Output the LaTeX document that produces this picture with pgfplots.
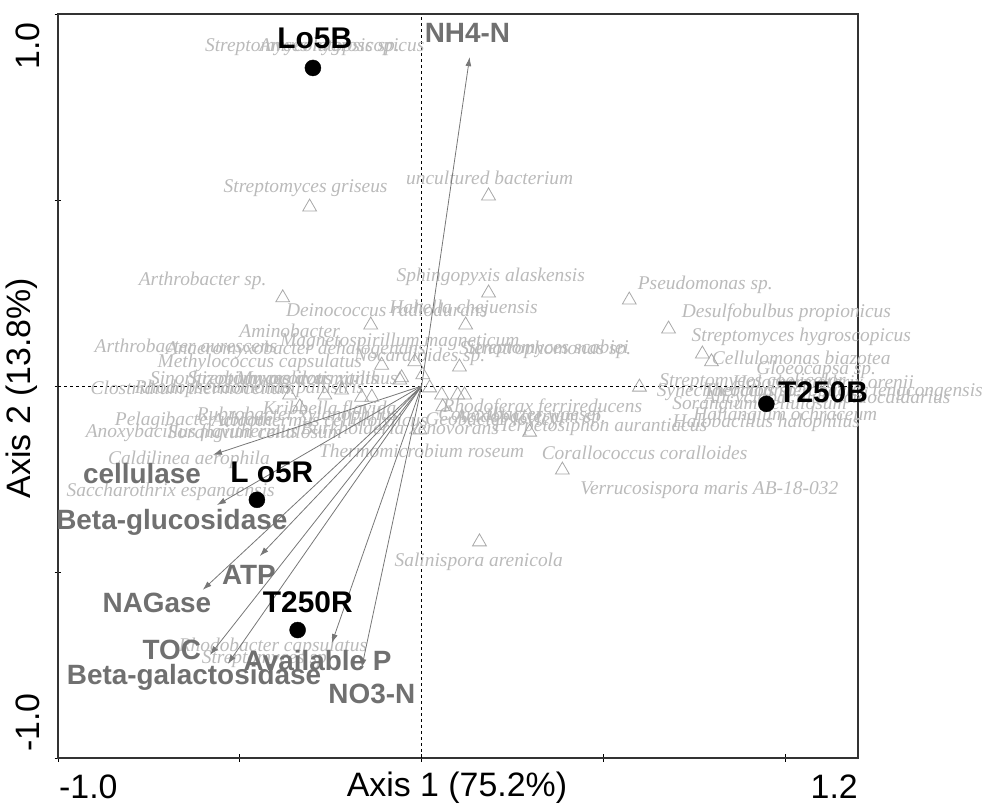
\documentclass[border=0pt]{standalone}
\usepackage{pgfplots}
\pgfplotsset{compat=1.18}
\usepackage{fontspec}
\setmainfont{Liberation Serif}
\newfontfamily\arial{Liberation Sans}
\usetikzlibrary{calc,arrows.meta}
\definecolor{spgray}{HTML}{BABABA}
\definecolor{trigray}{HTML}{A8A8A8}
\definecolor{envgray}{HTML}{707070}
\definecolor{arrgray}{HTML}{777777}
\tikzset{
  sp/.style={font=\fontsize{19.5}{19.5}\selectfont\itshape, text=spgray, inner sep=0pt},
  smp/.style={font=\arial\bfseries\fontsize{30}{30}\selectfont, text=black, inner sep=0pt},
  env/.style={font=\arial\bfseries\fontsize{28}{28}\selectfont, text=envgray, inner sep=0pt},
  lab/.style={font=\arial\fontsize{34}{34}\selectfont, text=black, inner sep=0pt},
}
\begin{document}
\begin{tikzpicture}
\begin{axis}[
  scale only axis, width=800bp, height=744bp,
  xmin=-1, xmax=1.2, ymin=-1, ymax=1,
  xtick={-1,-0.5,0,0.5,1}, ytick={-1,-0.5,0,0.5,1},
  xticklabels={,,,,}, yticklabels={,,,,},
  xtick pos=bottom, ytick pos=left,
  tick align=center, major tick length=7bp,
  clip=false,
  axis line style={line width=1.3bp, color=black!80},
  every tick/.style={black, line width=0.9bp},
]
\coordinate (sw) at (rel axis cs:0,0);
\coordinate (ne) at (rel axis cs:1,1);
% reference lines
\addplot[black, line width=0.9bp, dash pattern=on 3bp off 3bp] coordinates {(0,-1) (0,1)};
\addplot[black, line width=0.9bp, dash pattern=on 3bp off 3bp] coordinates {(-1,0) (1.2,0)};
% species
\addplot[only marks, mark=triangle, mark size=8bp, color=trigray, mark options={line width=0.8bp}] coordinates {
(-0.308,0.481) (0.184,0.511) (-0.382,0.237) (0.184,0.250) (0.571,0.231)
(-0.140,0.164) (0.121,0.164) (0.679,0.153) (0.772,0.086) (0.797,0.065)
(0.104,0.051) (-0.110,0.056) (-0.019,0.065) (0.003,0.030) (-0.055,0.022)
(-0.220,-0.011) (-0.165,-0.030) (-0.137,-0.030) (0.022,-0.005) (0.055,-0.024)
(0.099,-0.024) (0.118,-0.024) (0.599,-0.003) (0.297,-0.124) (0.387,-0.226)
(0.159,-0.419) (-0.363,-0.024) (-0.266,-0.024) (-0.335,-0.056) (0.058,-0.056)
(-0.005,-0.118) (-0.060,0.016)
};
\node[sp] at (axis cs:-0.294,0.911) {Streptomyces hygroscopicus};
\node[sp] at (axis cs:-0.253,0.911) {Amycolatopsis sp.};
\node[sp] at (axis cs:-0.319,0.532) {Streptomyces griseus};
\node[sp] at (axis cs:0.187,0.559) {uncultured bacterium};
\node[sp] at (axis cs:-0.602,0.282) {Arthrobacter sp.};
\node[sp] at (axis cs:0.190,0.293) {Sphingopyxis alaskensis};
\node[sp] at (axis cs:0.780,0.272) {Pseudomonas sp.};
\node[sp] at (axis cs:-0.096,0.204) {Deinococcus radiodurans};
\node[sp] at (axis cs:0.115,0.207) {Hahella chejuensis};
\node[sp] at (axis cs:1.003,0.196) {Desulfobulbus propionicus};
\node[sp] at (axis cs:1.044,0.132) {Streptomyces hygroscopicus};
\node[sp] at (axis cs:1.044,0.075) {Cellulomonas biazotea};
\node[sp] at (axis cs:1.085,0.043) {Gloeocapsa sp.};
\node[sp] at (axis cs:-0.363,0.148) {Aminobacter};
\node[sp] at (axis cs:-0.648,0.108) {Arthrobacter aurescens};
\node[sp] at (axis cs:-0.346,0.097) {Anaeromyxobacter dehalogenans};
\node[sp] at (axis cs:-0.060,0.118) {Magnetospirillum magneticum};
\node[sp] at (axis cs:-0.445,0.062) {Methylococcus capsulatus};
\node[sp] at (axis cs:0.346,0.099) {Streptomyces scabiei};
\node[sp] at (axis cs:0.340,0.097) {Stenotrophomonas sp.};
\node[sp] at (axis cs:-0.005,0.078) {Nocardioides sp.};
\node[sp] at (axis cs:-0.288,0.016) {Myxococcus xanthus};
\node[sp] at (axis cs:-0.503,0.022) {Sinorhizobium meliloti};
\node[sp] at (axis cs:-0.382,0.016) {Streptomyces avermitilis};
\node[sp] at (axis cs:-0.629,-0.005) {Clostridium thermocellum};
\node[sp] at (axis cs:-0.473,-0.008) {Rhodopseudomonas palustris};
\node[sp] at (axis cs:-0.341,-0.081) {Rubrobacter xylanophilus};
\node[sp] at (axis cs:-0.626,-0.094) {Pelagibacter ubique};
\node[sp] at (axis cs:-0.632,-0.126) {Anoxybacillus flavithermus};
\node[sp] at (axis cs:-0.459,-0.129) {Sorangium cellulosum};
\node[sp] at (axis cs:-0.640,-0.199) {Caldilinea aerophila};
\node[sp] at (axis cs:0.000,-0.175) {Thermomicrobium roseum};
\node[sp] at (axis cs:-0.060,-0.113) {Burkholderia xenovorans};
\node[sp] at (axis cs:0.332,-0.059) {Rhodoferax ferrireducens};
\node[sp] at (axis cs:0.492,-0.110) {Herpetosiphon aurantiacus};
\node[sp] at (axis cs:0.299,-0.086) {Acidobacterium sp.};
\node[sp] at (axis cs:0.269,-0.075) {Conexibacter woesei};
\node[sp] at (axis cs:0.201,-0.094) {Geobacter lovleyi};
\node[sp] at (axis cs:-0.253,-0.065) {Kribbella flavida};
\node[sp] at (axis cs:-0.280,-0.097) {Acidothermus cellulolyticus};
\node[sp] at (axis cs:0.910,0.011) {Streptomyces coelicolor};
\node[sp] at (axis cs:0.846,-0.016) {Synechococcus sp.};
\node[sp] at (axis cs:1.104,0.011) {Halothermothrix orenii};
\node[sp] at (axis cs:1.159,-0.016) {Thermoanaerobacter tengcongensis};
\node[sp] at (axis cs:1.115,-0.035) {Alicyclobacillus acidocaldarius};
\node[sp] at (axis cs:0.929,-0.051) {Sorangium cellulosum};
\node[sp] at (axis cs:1.000,-0.081) {Haliangium ochraceum};
\node[sp] at (axis cs:0.948,-0.099) {Halobacillus halophilus};
\node[sp] at (axis cs:0.613,-0.180) {Corallococcus coralloides};
\node[sp] at (axis cs:0.791,-0.280) {Verrucosispora maris AB-18-032};
\node[sp] at (axis cs:-0.690,-0.285) {Saccharothrix espanaensis};
\node[sp] at (axis cs:0.157,-0.473) {Salinispora arenicola};
\node[sp] at (axis cs:-0.409,-0.702) {Rhodobacter capsulatus};
\node[sp] at (axis cs:-0.426,-0.734) {Streptomyces sp.};
% environmental arrows
\pgfplotsset{envarrow/.style={arrgray, line width=0.8bp, -{Latex[length=9bp,width=6bp]}}}
\addplot[envarrow] coordinates {(0,0) (0.132,0.884)};
\addplot[envarrow] coordinates {(0,0) (-0.574,-0.185)};
\addplot[envarrow] coordinates {(0,0) (-0.563,-0.320)};
\addplot[envarrow] coordinates {(0,0) (-0.445,-0.457)};
\addplot[envarrow] coordinates {(0,0) (-0.602,-0.548)};
\addplot[envarrow] coordinates {(0,0) (-0.582,-0.723)};
\addplot[envarrow] coordinates {(0,0) (-0.533,-0.747)};
\addplot[envarrow] coordinates {(0,0) (-0.247,-0.691)};
\addplot[envarrow] coordinates {(0,0) (-0.165,-0.758)};
\node[env] at (axis cs:0.126,0.949) {NH4-N};
\node[env] at (axis cs:-0.769,-0.234) {cellulase};
\node[env] at (axis cs:-0.687,-0.366) {Beta-glucosidase};
\node[env] at (axis cs:-0.475,-0.508) {ATP};
\node[env] at (axis cs:-0.728,-0.582) {NAGase};
\node[env] at (axis cs:-0.687,-0.710) {TOC};
\node[env] at (axis cs:-0.626,-0.782) {Beta-galactosidase};
\node[env] at (axis cs:-0.286,-0.737) {Available P};
\node[env] at (axis cs:-0.137,-0.828) {NO3-N};
% samples
\addplot[only marks, mark=*, mark size=8bp, black] coordinates {
(-0.299,0.855) (0.948,-0.048) (-0.453,-0.306) (-0.341,-0.656)
};
\node[smp] at (axis cs:-0.294,0.935) {Lo5B};
\node[smp] at (axis cs:1.104,-0.018) {T250B};
\node[smp] at (axis cs:-0.412,-0.231) {L o5R};
\node[smp] at (axis cs:-0.313,-0.581) {T250R};
% tick labels and axis labels
\node[lab, anchor=north west] at ($(axis cs:-1,-1)+(1bp,-17bp)$) {-1.0};
\node[lab, anchor=north east] at ($(axis cs:1.2,-1)+(0bp,-17bp)$) {1.2};
\node[lab, rotate=90, anchor=south east] at ($(axis cs:-1,1)+(-18bp,-8bp)$) {1.0};
\node[lab, rotate=90, anchor=south west] at ($(axis cs:-1,-1)+(-18bp,6bp)$) {-1.0};
\node[lab, anchor=center] at ($(rel axis cs:0.4987,0)+(0bp,-30bp)$) {Axis 1 (75.2\%)};
\node[lab, rotate=90, anchor=center] at ($(rel axis cs:0,0.497)+(-36bp,0bp)$) {Axis 2 (13.8\%)};
\end{axis}
\pgfresetboundingbox
\path[use as bounding box] ($(sw)+(-58bp,-47bp)$) rectangle ($(ne)+(130bp,14bp)$);
\end{tikzpicture}
\end{document}
